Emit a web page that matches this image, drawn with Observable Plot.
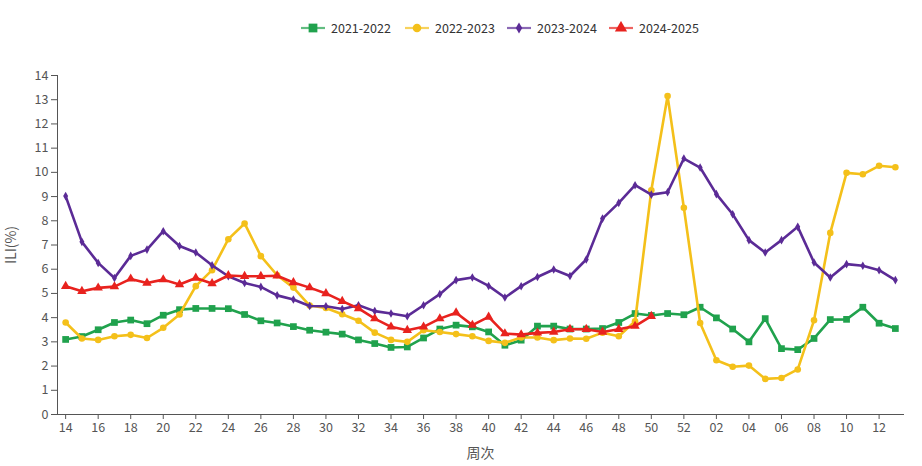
<!DOCTYPE html>
<html>
<head>
<meta charset="utf-8">
<script src="https://cdn.jsdelivr.net/npm/d3@7"></script>
<script src="https://cdn.jsdelivr.net/npm/@observablehq/plot@0.6"></script>
<style>
  html, body { margin: 0; padding: 0; background: #fff; }
  body { width: 922px; height: 466px; overflow: hidden; font-family: "Noto Sans CJK SC", "Noto Sans", sans-serif; }
  #legend { position: relative; height: 50px; }
  .item { position: absolute; top: 18px; display: flex; align-items: center; font-size: 12.5px; color: #333; }
  .item svg { margin-right: 6px; }
</style>
</head>
<body>
<div id="legend"></div>
<div id="chart"></div>
<script>
const weeks = ["14","15","16","17","18","19","20","21","22","23","24","25","26","27","28","29","30","31","32","33","34","35","36","37","38","39","40","41","42","43","44","45","46","47","48","49","50","51","52","01","02","03","04","05","06","07","08","09","10","11","12","13"];
const tickWeeks = weeks.filter((d, i) => i % 2 === 0);
const yTicks = [0,1,2,3,4,5,6,7,8,9,10,11,12,13,14];

const seasons = ["2021-2022", "2022-2023", "2023-2024", "2024-2025"];
const colors = ["#20a24d", "#f4c01a", "#5b2b96", "#e8221e"];
const symbols = ["square", "circle", "diamond", "triangle"];
const radii = [3.8, 3.3, 2.6, 3.5];

const ili2122 = [3.1,3.22,3.5,3.8,3.9,3.75,4.1,4.33,4.38,4.38,4.37,4.13,3.87,3.78,3.63,3.48,3.4,3.32,3.08,2.93,2.77,2.79,3.16,3.53,3.69,3.62,3.41,2.86,3.07,3.65,3.65,3.53,3.53,3.55,3.8,4.17,4.09,4.17,4.12,4.43,3.99,3.53,3.0,3.96,2.72,2.68,3.14,3.92,3.93,4.43,3.77,3.55];
const ili2223 = [3.8,3.14,3.08,3.23,3.29,3.16,3.58,4.13,5.3,5.96,7.24,7.89,6.54,5.75,5.24,4.5,4.4,4.14,3.87,3.38,3.08,3.0,3.48,3.41,3.32,3.23,3.04,2.96,3.18,3.18,3.07,3.14,3.13,3.38,3.23,3.85,9.26,13.15,8.54,3.78,2.24,1.97,2.02,1.47,1.51,1.86,3.89,7.5,9.98,9.92,10.27,10.21];
const ili2324 = [9.02,7.13,6.26,5.64,6.55,6.81,7.57,6.96,6.69,6.16,5.71,5.43,5.27,4.92,4.75,4.48,4.47,4.36,4.51,4.27,4.17,4.06,4.51,4.97,5.55,5.66,5.31,4.83,5.3,5.68,5.99,5.72,6.4,8.09,8.74,9.47,9.08,9.18,10.57,10.2,9.1,8.27,7.2,6.69,7.2,7.75,6.28,5.66,6.21,6.14,5.96,5.55];
const ili2425 = [5.3,5.09,5.23,5.28,5.6,5.43,5.57,5.37,5.64,5.41,5.74,5.71,5.71,5.73,5.45,5.24,5.0,4.68,4.38,3.96,3.62,3.48,3.62,3.96,4.2,3.69,4.03,3.34,3.3,3.37,3.41,3.52,3.52,3.41,3.52,3.65,4.06];

const seriesValues = [ili2122, ili2223, ili2324, ili2425];
const tables = seriesValues.map((vals, k) => vals.map((v, i) => ({season: seasons[k], week: weeks[i], ili: v})));

const marks = [];
tables.forEach((t, k) => {
  marks.push(Plot.line(t, {x: "week", y: "ili", stroke: colors[k], strokeWidth: 2.6}));
  marks.push(Plot.dot(t, {x: "week", y: "ili", fill: colors[k], stroke: "none", symbol: symbols[k], r: radii[k]}));
});

const chart = Plot.plot({
  width: 922,
  height: 416,
  marginLeft: 57,
  marginRight: 19,
  marginTop: 25,
  marginBottom: 52,
  style: {fontFamily: "'Noto Sans CJK SC', 'Noto Sans', sans-serif", fontSize: "12.5px", color: "#555", background: "#fff"},
  x: {type: "point", domain: weeks, padding: 0.5, round: false, ticks: tickWeeks, line: true, tickSize: 5, tickPadding: 4,
      label: "周次", labelAnchor: "center", labelOffset: 43, labelArrow: false},
  y: {domain: [0, 14], ticks: yTicks, line: true, tickSize: 6, tickPadding: 3,
      label: "ILI(%)", labelAnchor: "center", labelOffset: 51, labelArrow: false},
  marks
});
document.getElementById("chart").appendChild(chart);
chart.querySelectorAll('[aria-label="x-axis label"], [aria-label="y-axis label"]').forEach(g => {
  g.setAttribute("font-size", "14px");
  g.querySelectorAll("text").forEach(t => t.setAttribute("font-size", "14px"));
});

// legend
const legendX = [301, 405, 507, 609];
const legend = document.getElementById("legend");
seasons.forEach((s, k) => {
  const item = document.createElement("div");
  item.className = "item";
  item.style.left = legendX[k] + "px";
  const svg = d3.create("svg").attr("width", 24).attr("height", 14);
  svg.append("line").attr("x1", 0).attr("x2", 24).attr("y1", 7).attr("y2", 7)
    .attr("stroke", colors[k]).attr("stroke-width", 2.2).attr("opacity", 0.7);
  const sym = {square: d3.symbolSquare, circle: d3.symbolCircle, diamond: d3.symbolDiamond, triangle: d3.symbolTriangle}[symbols[k]];
  const r = radii[k] * 1.3;
  svg.append("path").attr("transform", "translate(12,7)")
    .attr("d", d3.symbol(sym, Math.PI * r * r)()).attr("fill", colors[k]);
  item.appendChild(svg.node());
  const label = document.createElement("span");
  label.textContent = s;
  item.appendChild(label);
  legend.appendChild(item);
});
</script>
</body>
</html>
